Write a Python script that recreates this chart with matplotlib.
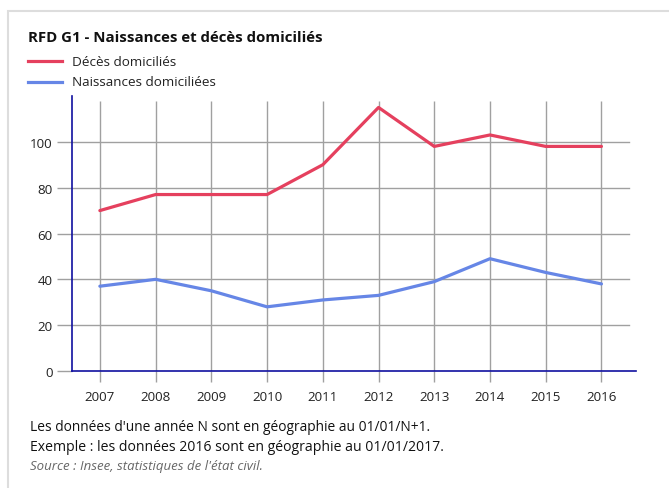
import matplotlib
matplotlib.use("Agg")
import matplotlib.pyplot as plt
from matplotlib.patches import Rectangle

plt.rcParams['font.family'] = ['Open Sans', 'DejaVu Sans']

years = [2007, 2008, 2009, 2010, 2011, 2012, 2013, 2014, 2015, 2016]
deces = [70, 77, 77, 77, 90, 115, 98, 103, 98, 98]
naissances = [37, 40, 35, 28, 31, 33, 39, 49, 43, 38]
yticks = [0, 20, 40, 60, 80, 100]

title = "RFD G1 - Naissances et décès domiciliés"
label_deces = "Décès domiciliés"
label_naiss = "Naissances domiciliées"
notes = ["Les données d'une année N sont en géographie au 01/01/N+1.",
         "Exemple : les données 2016 sont en géographie au 01/01/2017."]
source = "Source : Insee, statistiques de l'état civil."

W, H = 669, 489
fig = plt.figure(figsize=(W / 100, H / 100), dpi=100)

# light frame
fig.patches.append(Rectangle((8 / W, -0.1), 1.2, 1 - 12 / H + 0.1, transform=fig.transFigure,
                             facecolor='white', edgecolor='#dddddd', linewidth=1.5, zorder=-1))

ax = fig.add_axes([72 / W, 1 - 372 / H, (636 - 72) / W, (372 - 97) / H])
ax.set_xlim(2006.5, 2016.62)
ax.set_ylim(0, 120)

grid_c = '#a0a0a0'
ax.vlines(years, 0, 118, color=grid_c, lw=1, zorder=1)
for v in yticks[1:]:
    ax.axhline(v, xmax=(629 - 72) / (636 - 72), color=grid_c, lw=1, zorder=1)

red = '#e5405e'
blue = '#6686e6'
ax.plot(years, deces, color=red, lw=2.3, zorder=3, solid_capstyle='round')
ax.plot(years, naissances, color=blue, lw=2.3, zorder=3, solid_capstyle='round')

for s in ['top', 'right']:
    ax.spines[s].set_visible(False)
for s in ['left', 'bottom']:
    ax.spines[s].set_color('#1010a0')
    ax.spines[s].set_linewidth(1.2)
    ax.spines[s].set_zorder(4)

ax.set_xticks(years)
ax.set_xticklabels([str(y) for y in years])
ax.set_yticks(yticks)
ax.tick_params(axis='x', length=8, color=grid_c, width=1, labelsize=9.6, pad=6, labelcolor='#222222')
ax.tick_params(axis='y', length=11, color=grid_c, width=1, labelsize=9.6, pad=3, labelcolor='#222222')

fig.text(28 / W, 1 - 38 / H, title, fontsize=10.8, fontweight='bold', va='center', ha='left', color='#111111')

# legend
for i, (lab, c) in enumerate([(label_deces, red), (label_naiss, blue)]):
    yy = 1 - (62 + 21 * i) / H
    fig.add_artist(plt.Line2D([28 / W, 62 / W], [yy, yy], color=c, lw=2.3, transform=fig.transFigure))
    fig.text(72 / W, yy, lab, fontsize=9.7, va='center', ha='left', color='#222222')

fig.text(30 / W, 1 - 428 / H, notes[0], fontsize=9.9, va='center', ha='left', color='#111111')
fig.text(30 / W, 1 - 448 / H, notes[1], fontsize=10.1, va='center', ha='left', color='#111111')
fig.text(30 / W, 1 - 467 / H, source, fontsize=9.5, style='italic', va='center', ha='left', color='#666666')

fig.savefig('out.png', dpi=100)
